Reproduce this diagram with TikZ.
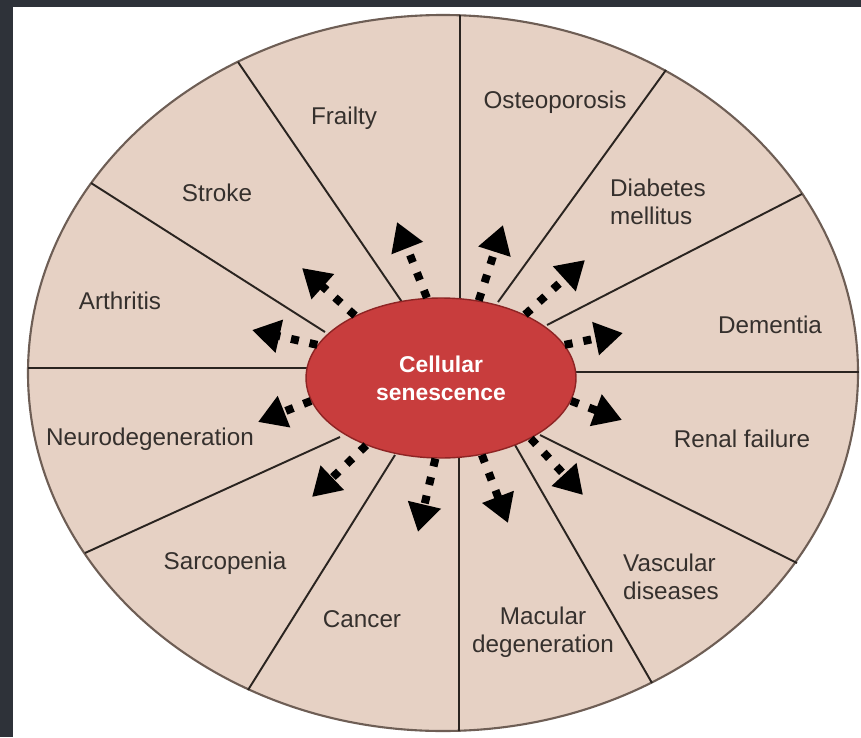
\documentclass[tikz,border=0pt]{standalone}
\usepackage{fontspec}
\setmainfont{Liberation Sans}
\usetikzlibrary{arrows.meta,shapes.geometric}

\definecolor{frame}{HTML}{2E3239}
\definecolor{segment}{HTML}{E6D1C4}
\definecolor{rim}{HTML}{6E5E55}
\definecolor{spoke}{HTML}{2A2420}
\definecolor{senred}{HTML}{C83D3D}
\definecolor{senedge}{HTML}{8E2424}
\definecolor{txt}{HTML}{35302D}

\begin{document}
\begin{tikzpicture}[
    x=0.02cm, y=-0.02cm,
    disease/.style={text=txt, font=\fontsize{13.8}{16}\selectfont, align=center, inner sep=0pt},
    core/.style={ellipse, draw=senedge, line width=0.8pt, fill=senred, minimum width=5.4cm, minimum height=3.2cm, inner sep=0pt, text=white, font=\bfseries\fontsize{13}{16}\selectfont, align=center},
    divider/.style={draw=spoke, line width=1.1pt},
    burst/.style={draw=black, line width=0.16cm, dash pattern=on 0.16cm off 0.22cm, -{Triangle[length=0.56cm, width=0.64cm]}}
]

% Frame and page
\fill[frame] (0,0) rectangle (861,737);
\fill[white] (13,7) rectangle (861,737);
\useasboundingbox (0,0) rectangle (861,737);

% Outer ring
\filldraw[fill=segment, draw=rim, line width=1.2pt] (443,373) ellipse [x radius=415, y radius=358];

% Dividers
\draw[divider] (460,15) -- (460,300);
\draw[divider] (238,62) -- (402,302);
\draw[divider] (91,183) -- (325,332);
\draw[divider] (28,368) -- (310,368);
\draw[divider] (85,553) -- (340,437);
\draw[divider] (248,690) -- (395,455);
\draw[divider] (459,731) -- (459,455);
\draw[divider] (652,683) -- (515,445);
\draw[divider] (797,563) -- (540,435);
\draw[divider] (859,372) -- (575,372);
\draw[divider] (802,194) -- (547,325);
\draw[divider] (666,70) -- (498,302);

% Centre
\node[core] (core) at (441,378) {Cellular\\senescence};

% Diseases
\node[disease] (osteo) at (555,102) {Osteoporosis};
\node[disease, align=left] (diabetes) at (658,202) {Diabetes\\mellitus};
\node[disease] (dementia) at (770,325) {Dementia};
\node[disease] (renal) at (742,439) {Renal failure};
\node[disease, align=left] (vascular) at (671,577) {Vascular\\diseases};
\node[disease] (macular) at (543,632) {Macular\\degeneration};
\node[disease] (cancer) at (362,619) {Cancer};
\node[disease] (sarco) at (225,563) {Sarcopenia};
\node[disease] (neuro) at (150,439) {Neurodegeneration};
\node[disease] (arthritis) at (120,301) {Arthritis};
\node[disease] (stroke) at (217,193) {Stroke};
\node[disease] (frailty) at (344,118) {Frailty};

% Arrow tips
\coordinate (tipFrailty) at (397,222);
\coordinate (tipStroke) at (302,268);
\coordinate (tipArthritis) at (252,330);
\coordinate (tipNeuro) at (258,422);
\coordinate (tipSarco) at (312,497);
\coordinate (tipCancer) at (418,532);
\coordinate (tipMacular) at (508,523);
\coordinate (tipVascular) at (583,495);
\coordinate (tipRenal) at (622,420);
\coordinate (tipDementia) at (623,333);
\coordinate (tipDiabetes) at (585,260);
\coordinate (tipOsteo) at (503,225);

% Arrows
\draw[burst] (core.100) -- (tipFrailty);
\draw[burst] (core.144) -- (tipStroke);
\draw[burst] (core.165) -- (tipArthritis);
\draw[burst] (core.190) -- (tipNeuro);
\draw[burst] (core.222) -- (tipSarco);
\draw[burst] (core.266) -- (tipCancer);
\draw[burst] (core.298) -- (tipMacular);
\draw[burst] (core.326) -- (tipVascular);
\draw[burst] (core.350) -- (tipRenal);
\draw[burst] (core.15) -- (tipDementia);
\draw[burst] (core.37) -- (tipDiabetes);
\draw[burst] (core.64) -- (tipOsteo);

\end{tikzpicture}
\end{document}
